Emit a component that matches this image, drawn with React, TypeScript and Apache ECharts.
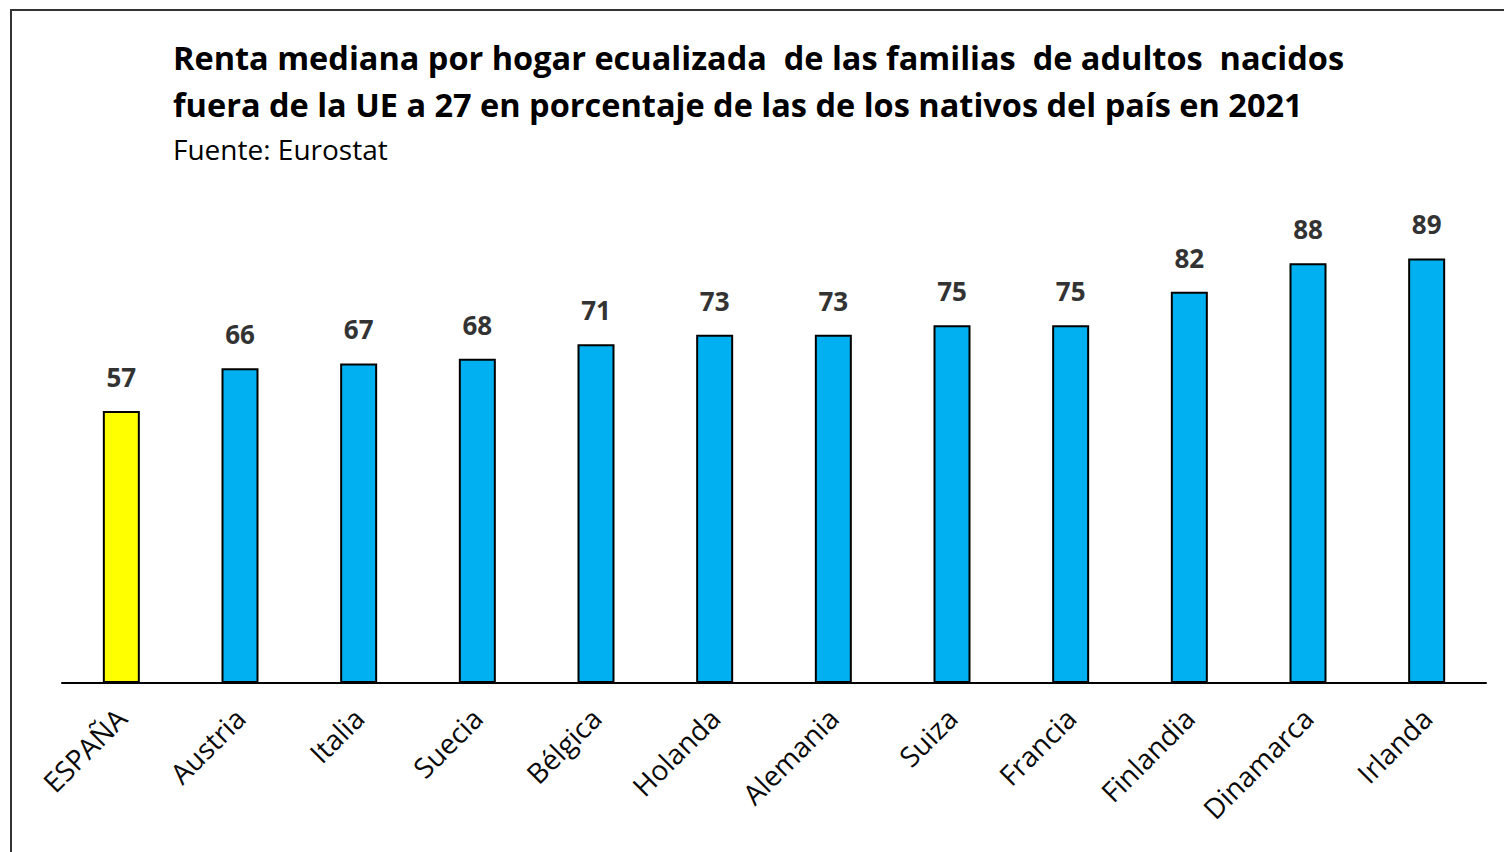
import React, { useEffect, useRef } from "react";
import * as echarts from "echarts";

const categories = ["ESPAÑA", "Austria", "Italia", "Suecia", "Bélgica", "Holanda", "Alemania", "Suiza", "Francia", "Finlandia", "Dinamarca", "Irlanda"];
const values = [57, 66, 67, 68, 71, 73, 73, 75, 75, 82, 88, 89];
const highlight = "ESPAÑA";
const titleLines = [
  "Renta mediana por hogar ecualizada  de las familias  de adultos  nacidos",
  "fuera de la UE a 27 en porcentaje de las de los nativos del país en 2021",
];
const subtitle = "Fuente: Eurostat";

export default function App() {
  const ref = useRef<HTMLDivElement>(null);
  useEffect(() => {
    const chart = echarts.init(ref.current!, null, { renderer: "svg" });
    chart.setOption({
      animation: false,
      backgroundColor: "#ffffff",
      textStyle: { fontFamily: "Open Sans" },
      title: {
        text: titleLines.join("\n"),
        subtext: subtitle,
        left: 168,
        top: 29,
        itemGap: 7,
        textStyle: { fontFamily: "Open Sans", fontWeight: "bold", fontSize: 32.5, lineHeight: 47, color: "#000" },
        subtextStyle: { fontFamily: "Open Sans", fontSize: 28, color: "#000" },
      },
      graphic: [
        { type: "line", shape: { x1: 10, y1: 10, x2: 1504, y2: 10 }, style: { stroke: "#333", lineWidth: 2 } },
        { type: "line", shape: { x1: 11, y1: 10, x2: 11, y2: 852 }, style: { stroke: "#333", lineWidth: 2 } },
      ],
      grid: { left: 62, right: 18, top: 206, bottom: 169 },
      xAxis: {
        type: "category",
        data: categories,
        axisLine: { lineStyle: { color: "#000", width: 2 } },
        axisTick: { show: false },
        axisLabel: { rotate: 45, fontSize: 28, color: "#0a0a0a", margin: 30, interval: 0, fontFamily: "Open Sans" },
      },
      yAxis: { type: "value", min: 0, max: 100, show: false, splitLine: { show: false } },
      series: [
        {
          type: "bar",
          barWidth: 37,
          data: values.map((v, i) => ({
            value: v,
            itemStyle: { color: categories[i] === highlight ? "#ffff00" : "#00b0f0" },
          })),
          itemStyle: { borderColor: "#000", borderWidth: 2 },
          label: { show: true, position: "top", distance: 21, fontSize: 26, fontWeight: "bold", color: "#333333", fontFamily: "Open Sans" },
        },
      ],
    });
    return () => chart.dispose();
  }, []);
  return <div ref={ref} style={{ position: "absolute", left: 0, top: 0, width: 1504, height: 852 }} />;
}
